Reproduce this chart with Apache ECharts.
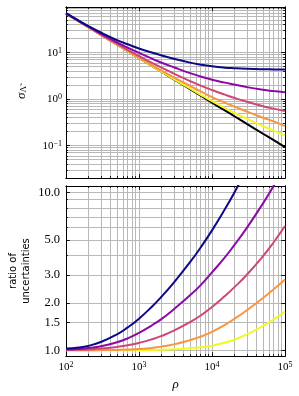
<!DOCTYPE html>
<html><head><meta charset="utf-8">
<script src="https://cdn.jsdelivr.net/npm/echarts@6/dist/echarts.min.js"></script>
<style>html,body{margin:0;padding:0;background:#fff;}#c{width:299px;height:396px;}</style>
</head><body><div id="c"></div>
<script>
// ---- data ----
const rho = [100,150,200,300,500,700,1000,1500,2000,3000,5000,7000,10000,15000,20000,30000,50000,70000,100000];

// top panel: sigma_Lambda
const sigNavy   = [70.2,48.4,37.4,26.9,18.5,15.0,12.2,9.96,8.70,7.31,6.05,5.47,5.04,4.72,4.59,4.46,4.36,4.33,4.31];
const sigPurple = [69.5,47.4,36.5,25.3,16.5,12.7,9.8,7.4,6.1,4.8,3.6,3.05,2.6,2.25,2.05,1.8,1.58,1.48,1.39];
const sigPink   = [69.2,47.2,36.2,24.6,15.4,11.4,8.4,6.0,4.8,3.5,2.43,1.94,1.56,1.24,1.06,0.87,0.70,0.62,0.55];
const sigOrange = [68.5,46.5,35.4,24.0,14.85,10.8,7.76,5.35,4.13,2.90,1.91,1.45,1.10,0.833,0.694,0.537,0.396,0.330,0.26];
const sigYellow = [68.5,46.5,35.3,23.9,14.7,10.65,7.57,5.15,3.92,2.68,1.68,1.23,0.895,0.638,0.509,0.377,0.261,0.209,0.165];
const sigBlack  = [68.5,46.5,35.3,23.9,14.7,10.65,7.57,5.14,3.90,2.64,1.63,1.18,0.836,0.567,0.431,0.292,0.179,0.130,0.092];

// bottom panel: ratio of uncertainties
const rNavy   = [1.025,1.042,1.066,1.128,1.262,1.396,1.587,1.889,2.169,2.689,3.616,4.485,5.758,7.834,9.89,14.02,null,null,null];
const rPurple = [1.015,1.02,1.035,1.06,1.125,1.19,1.29,1.44,1.57,1.82,2.23,2.59,3.12,3.88,4.61,5.97,8.54,11.03,14.7];
const rPink   = [1.005,1.007,1.013,1.025,1.051,1.075,1.114,1.174,1.229,1.331,1.508,1.661,1.880,2.207,2.495,3.012,3.95,4.84,6.13];
const rOrange = [1.0,1.0,1.0,1.003,1.006,1.01,1.02,1.035,1.055,1.09,1.16,1.22,1.31,1.45,1.576,1.795,2.146,2.435,2.81];
const rYellow = [1.0,1.0,1.0,1.0,1.0,1.0,1.003,1.005,1.008,1.015,1.03,1.045,1.07,1.119,1.167,1.261,1.427,1.570,1.763];

// ticks
const xMajor = [100,1000,10000,100000];
const xMajorExp = ['2','3','4','5'];
const xMinor = [200,300,400,500,600,700,800,900,2000,3000,4000,5000,6000,7000,8000,9000,
                20000,30000,40000,50000,60000,70000,80000,90000];
const topYMajor = [0.1,1,10];
const topYMajorExp = ['\u22121','0','1'];
const topYMinor = [0.03,0.04,0.05,0.06,0.07,0.08,0.09,0.2,0.3,0.4,0.5,0.6,0.7,0.8,0.9,
                   2,3,4,5,6,7,8,9,20,30,40,50,60,70,80,90];
const botYMajor = [1,1.5,2,3,5,10];
const botYLabels = ['1.0','1.5','2.0','3.0','5.0','10.0'];
const botYMinor = [4,6,7,8,9];

const colors = {navy:'#0d0887', purple:'#8b0aa5', pink:'#cc4778', orange:'#f89540', yellow:'#f0f921', black:'#000000'};

const SERIF = 'Liberation Serif';
const GRID = '#b8b8b8';
const rich = {
  b:{fontFamily:SERIF,fontSize:11,lineHeight:12,verticalAlign:'bottom',color:'#000'},
  s:{fontFamily:SERIF,fontSize:8,lineHeight:5,verticalAlign:'top',color:'#000'}
};
function findIdx(arr, v){ return arr.findIndex(m => Math.abs(m - v) / m < 1e-6); }

function xAxesFor(g, labels, extra){
  const base = {type:'log', gridIndex:g, min:100, max:100000,
    axisLine:{show:true,onZero:false,lineStyle:{color:'#000',width:1}}};
  const all = xMajor.concat(xMinor);
  return [
    Object.assign({}, base, {position:'bottom',
      axisTick:{show:true,inside:true,length:2,customValues:all,lineStyle:{color:'#000',width:0.8}},
      axisLabel:{show:false}, splitLine:{show:true,lineStyle:{color:GRID,width:1}}}, extra||{}),
    Object.assign({}, base, {position:'bottom',
      axisTick:{show:true,inside:true,length:4,customValues:xMajor,lineStyle:{color:'#000',width:0.8}},
      axisLabel:{show:labels,customValues:xMajor,margin:5,rich:rich,
        formatter:function(v){const i=findIdx(xMajor,v);return '{b|10}{s|'+xMajorExp[i]+'}';}},
      splitLine:{show:false}}),
    Object.assign({}, base, {position:'top',
      axisTick:{show:true,inside:true,length:2,customValues:all,lineStyle:{color:'#000',width:0.8}},
      axisLabel:{show:false}, splitLine:{show:false}}),
    Object.assign({}, base, {position:'top',
      axisTick:{show:true,inside:true,length:4,customValues:xMajor,lineStyle:{color:'#000',width:0.8}},
      axisLabel:{show:false}, splitLine:{show:false}})
  ];
}
function yAxesFor(g, min, max, major, minor, labelFmt, nameOpt, labelStyle){
  const base = {type:'log', gridIndex:g, min:min, max:max,
    axisLine:{show:true,onZero:false,lineStyle:{color:'#000',width:1}}};
  const all = major.concat(minor);
  return [
    Object.assign({}, base, {position:'left',
      axisTick:{show:true,inside:true,length:2,customValues:all,lineStyle:{color:'#000',width:0.8}},
      axisLabel:{show:false}, splitLine:{show:true,lineStyle:{color:GRID,width:1}}}, nameOpt),
    Object.assign({}, base, {position:'left',
      axisTick:{show:true,inside:true,length:4,customValues:major,lineStyle:{color:'#000',width:0.8}},
      axisLabel:Object.assign({show:true,customValues:major,formatter:labelFmt}, labelStyle),
      splitLine:{show:false}}),
    Object.assign({}, base, {position:'right',
      axisTick:{show:true,inside:true,length:2,customValues:all,lineStyle:{color:'#000',width:0.8}},
      axisLabel:{show:false}, splitLine:{show:false}}),
    Object.assign({}, base, {position:'right',
      axisTick:{show:true,inside:true,length:4,customValues:major,lineStyle:{color:'#000',width:0.8}},
      axisLabel:{show:false}, splitLine:{show:false}})
  ];
}

const xAxis = xAxesFor(0, false).concat(xAxesFor(1, true, {
  name:'\u03c1', nameLocation:'middle', nameGap:22,
  nameTextStyle:{fontFamily:SERIF,fontStyle:'italic',fontSize:13,color:'#000'}
}));
const yAxis = yAxesFor(0, 0.02, 95, topYMajor, topYMinor,
  function(v){const i=findIdx(topYMajor,v);return '{b|10}{s|'+topYMajorExp[i]+'}';},
  {name:'{a|\u03c3}{u|\u039b\u0303}', nameLocation:'middle', nameRotate:90, nameGap:38,
   nameTextStyle:{rich:{
     a:{fontFamily:SERIF,fontStyle:'italic',fontSize:13,lineHeight:13,verticalAlign:'top',color:'#000'},
     u:{fontFamily:SERIF,fontSize:9,lineHeight:5,verticalAlign:'bottom',color:'#000'}}}},
  {margin:4, rich:rich}
).concat(yAxesFor(1, 0.92, 11, botYMajor, botYMinor,
  function(v){const i=findIdx(botYMajor,v);return botYLabels[i];},
  {name:'ratio of\nuncertainties', nameLocation:'middle', nameRotate:90, nameGap:33,
   nameTextStyle:{fontFamily:'DejaVu Sans',fontSize:10,lineHeight:13,color:'#000'}},
  {margin:6, fontFamily:SERIF, fontSize:12.5, color:'#000'}
));

function mk(arr, color, g){
  return {type:'line', xAxisIndex:g*4, yAxisIndex:g*4, data:rho.map((r,i)=>[r,arr[i]]),
    smooth:0.5, showSymbol:false, symbol:'none', clip:true, connectNulls:false,
    lineStyle:{color:color,width:2}, itemStyle:{color:color}, z:5, silent:true};
}
const series = [
  mk(sigBlack, colors.black, 0), mk(sigYellow, colors.yellow, 0), mk(sigOrange, colors.orange, 0),
  mk(sigPink, colors.pink, 0), mk(sigPurple, colors.purple, 0), mk(sigNavy, colors.navy, 0),
  mk(rYellow, colors.yellow, 1), mk(rOrange, colors.orange, 1), mk(rPink, colors.pink, 1),
  mk(rPurple, colors.purple, 1), mk(rNavy, colors.navy, 1)
];

const chart = echarts.init(document.getElementById('c'), null, {renderer:'canvas'});
chart.setOption({
  animation:false,
  backgroundColor:'#fff',
  grid:[
    {left:66, top:7, width:219, height:171, containLabel:false, outerBoundsMode:'none'},
    {left:66, top:186, width:219, height:170, containLabel:false, outerBoundsMode:'none'}
  ],
  xAxis:xAxis, yAxis:yAxis, series:series
});
</script></body></html>
